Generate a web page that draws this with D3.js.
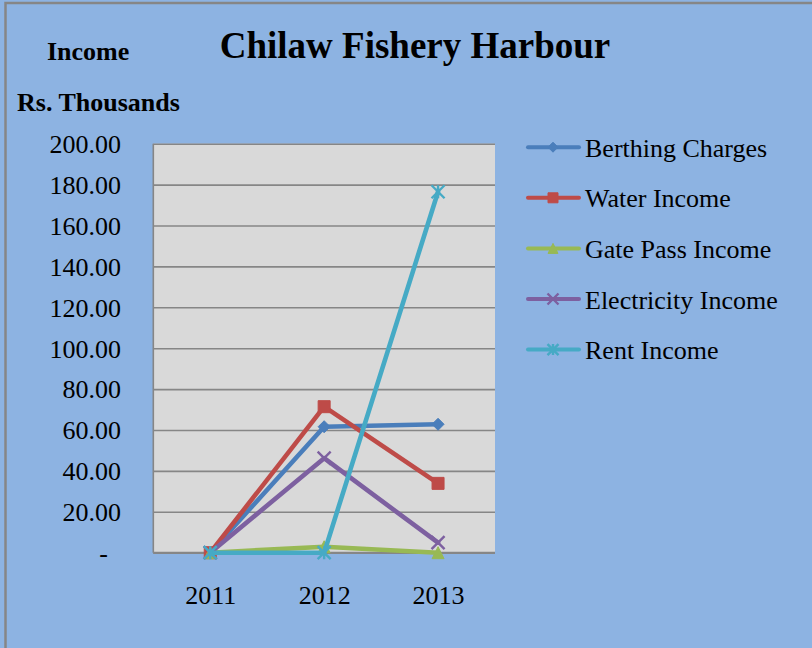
<!DOCTYPE html>
<html>
<head>
<meta charset="utf-8">
<script src="https://cdn.jsdelivr.net/npm/d3@7"></script>
<style>
  html, body { margin: 0; padding: 0; background: #8db3e2; }
  svg { display: block; }
  text { font-family: "Liberation Serif", "Times New Roman", serif; fill: #000; }
</style>
</head>
<body>
<svg id="chart" width="812" height="648"></svg>
<script>
// ---- data ----
const years = ["2011", "2012", "2013"];
const seriesNames = ["Berthing Charges", "Water Income", "Gate Pass Income", "Electricity Income", "Rent Income"];
const berthing = [0, 61.6, 62.8];
const water = [0, 71.4, 33.9];
const gatePass = [0, 2.9, 0];
const electricity = [0, 46.2, 4.9];
const rent = [0, 0, 176.5];
const yTicks = [0, 20, 40, 60, 80, 100, 120, 140, 160, 180, 200];
const titleText = "Chilaw Fishery Harbour";
const yTitle1 = "Income";
const yTitle2 = "Rs. Thousands";

const colors = ["#4a7ebb", "#be4b48", "#98b954", "#7d60a0", "#46aac5"];
const markers = ["diamond", "square", "triangle", "x", "star"];
const seriesValues = [berthing, water, gatePass, electricity, rent];

const series = seriesNames.map((n, i) => ({
  name: n, color: colors[i], marker: markers[i],
  values: years.map((y, j) => ({ year: y, value: seriesValues[i][j] }))
}));

const W = 812, H = 648;
const plot = { left: 153.3, right: 495, top: 143.7, bottom: 552.7 };

const svg = d3.select("#chart");

// background + border
svg.append("rect").attr("x", 0).attr("y", 0).attr("width", W).attr("height", H).attr("fill", "#8db3e2");
svg.append("rect").attr("x", 5.5).attr("y", 3).attr("width", W + 10).attr("height", H + 10)
  .attr("fill", "none").attr("stroke", "#868686").attr("stroke-width", 2.5);

const x = d3.scalePoint().domain(years).range([plot.left, plot.right]).padding(0.5);
const y = d3.scaleLinear().domain([0, 200]).range([plot.bottom, plot.top]);

// plot area
svg.append("rect")
  .attr("x", plot.left).attr("y", plot.top)
  .attr("width", plot.right - plot.left).attr("height", plot.bottom - plot.top)
  .attr("fill", "#d9d9d9");

// gridlines
const grid = svg.append("g")
  .attr("transform", `translate(${plot.left},0)`)
  .call(d3.axisLeft(y).tickValues(yTicks).tickSize(-(plot.right - plot.left)).tickFormat(""));
grid.select(".domain").remove();
grid.selectAll(".tick line").attr("stroke", "#868686").attr("stroke-width", 1.6);

// left axis line
svg.append("line").attr("x1", plot.left).attr("x2", plot.left).attr("y1", plot.top).attr("y2", plot.bottom)
  .attr("stroke", "#868686").attr("stroke-width", 1.6);
// bottom axis line
svg.append("line").attr("x1", plot.left).attr("x2", plot.right).attr("y1", plot.bottom).attr("y2", plot.bottom)
  .attr("stroke", "#868686").attr("stroke-width", 2);

// y tick labels via axis
const yAxis = svg.append("g")
  .attr("transform", `translate(121,0)`)
  .call(d3.axisLeft(y).tickValues(yTicks).tickSize(0).tickPadding(0)
    .tickFormat(d => d === 0 ? "-" : d3.format(".2f")(d)));
yAxis.select(".domain").remove();
yAxis.selectAll(".tick text")
  .attr("font-family", "Liberation Serif, serif").attr("font-size", 26).attr("fill", "#000")
  .attr("dy", "0.34em")
  .attr("x", d => d === 0 ? -13 : 0);

// x labels via axis
const xAxis = svg.append("g")
  .attr("transform", `translate(0,${plot.bottom})`)
  .call(d3.axisBottom(x).tickSize(0).tickPadding(0));
xAxis.select(".domain").remove();
xAxis.selectAll(".tick text")
  .attr("font-family", "Liberation Serif, serif").attr("font-size", 26).attr("fill", "#000")
  .attr("dy", 0).attr("y", 51);

// marker shapes
function markerPath(type, s) {
  const h = s / 2;
  switch (type) {
    case "diamond": return `M0,${-h}L${h},0L0,${h}L${-h},0Z`;
    case "square": return `M${-h},${-h}H${h}V${h}H${-h}Z`;
    case "triangle": return `M0,${-h}L${h},${h}L${-h},${h}Z`;
    case "x": return `M${-h},${-h}L${h},${h}M${h},${-h}L${-h},${h}`;
    case "star": return `M${-h},${-h}L${h},${h}M${h},${-h}L${-h},${h}M0,${-h}V${h}`;
  }
}
function drawMarker(g, type, color, size) {
  const filled = type === "diamond" || type === "square" || type === "triangle";
  g.append("path").attr("d", markerPath(type, size))
    .attr("fill", filled ? color : "none")
    .attr("stroke", color).attr("stroke-width", filled ? 1 : 2.4);
}

const line = d3.line().x(d => x(d.year)).y(d => y(d.value));
const sizes = { diamond: 12, square: 12, triangle: 12, x: 13, star: 13 };

series.forEach(s => {
  const g = svg.append("g");
  g.append("path").datum(s.values).attr("d", line)
    .attr("fill", "none").attr("stroke", s.color).attr("stroke-width", 4.6)
    .attr("stroke-linejoin", "round").attr("stroke-linecap", "round");
  s.values.forEach(d => {
    const mg = g.append("g").attr("transform", `translate(${x(d.year)},${y(d.value)})`);
    drawMarker(mg, s.marker, s.color, sizes[s.marker]);
  });
});

// legend
const legend = svg.append("g");
series.forEach((s, i) => {
  const by = 156.7 + i * 50.6;
  const cy = by - 9.5;
  const lg = legend.append("g");
  lg.append("line").attr("x1", 528).attr("x2", 579).attr("y1", cy).attr("y2", cy)
    .attr("stroke", s.color).attr("stroke-width", 4).attr("stroke-linecap", "round");
  const mg = lg.append("g").attr("transform", `translate(553,${cy})`);
  drawMarker(mg, s.marker, s.color, sizes[s.marker] - 2);
  lg.append("text").attr("x", 585).attr("y", by).attr("font-size", 26).text(s.name);
});

// titles
svg.append("text").attr("x", 415).attr("y", 58).attr("text-anchor", "middle")
  .attr("font-size", 37).attr("font-weight", "bold").text(titleText);
svg.append("text").attr("x", 47).attr("y", 60)
  .attr("font-size", 26).attr("font-weight", "bold").text(yTitle1);
svg.append("text").attr("x", 17).attr("y", 111)
  .attr("font-size", 26).attr("font-weight", "bold").text(yTitle2);
</script>
</body>
</html>
